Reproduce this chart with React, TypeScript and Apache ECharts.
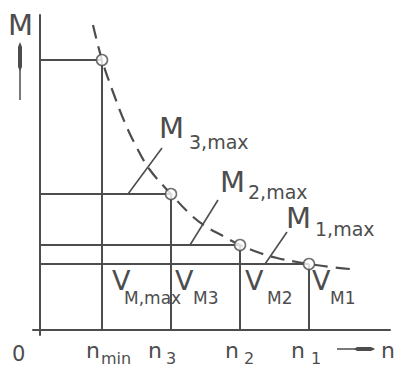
import React, { useEffect, useRef } from "react";
import * as echarts from "echarts";

// speeds at the operating points (n_min, n3, n2, n1) and max torques
const speedNames = ["min", "3", "2", "1"];
const speedValues = [62, 131, 200, 269];
const torqueValues = [270, 136, 85, 66];
const torqueNames = ["3,max", "2,max", "1,max"];
const volumeNames = ["M,max", "M3", "M2", "M1"];
// dashed limit curve (constant power hyperbola)
const curveN = [53, 62, 73, 85, 97, 110, 131, 150, 165, 183, 200, 220, 237, 257, 269, 290, 310];
const curveM = [305, 270, 238, 207, 182, 160, 136, 116, 104, 94, 85, 77, 72, 68, 66, 63, 61];
// leader lines of the M_max labels (start on level, end at label)
const leaderFrom = [[88, 136], [150, 85], [225, 66]];
const leaderTo = [[122, 182], [178, 130], [247, 98]];

const INK = "#4d4d4d";
const FONT = "DejaVu Sans";

function txt(text: string, x: number, base: number, size: number) {
  return {
    type: "text",
    x,
    y: base - 0.36 * size,
    silent: true,
    style: {
      text,
      fill: INK,
      font: `${size}px "${FONT}"`,
      textAlign: "left",
      textVerticalAlign: "middle",
    },
  };
}

export default function App() {
  const ref = useRef<HTMLDivElement>(null);
  useEffect(() => {
    if (!ref.current) return;
    document.body.style.margin = "0";
    const chart = echarts.init(ref.current, null, { renderer: "svg" });
    const lineSeries: any[] = [];
    speedValues.forEach((n, i) => {
      const m = torqueValues[i];
      lineSeries.push({
        type: "line",
        data: [[0, m], [n, m]],
        showSymbol: false,
        lineStyle: { color: INK, width: 2 },
        silent: true,
      });
      lineSeries.push({
        type: "line",
        data: [[n, 0], [n, m]],
        showSymbol: false,
        lineStyle: { color: INK, width: 2 },
        silent: true,
      });
    });
    leaderFrom.forEach((p, i) => {
      lineSeries.push({
        type: "line",
        data: [p, leaderTo[i]],
        showSymbol: false,
        lineStyle: { color: INK, width: 1.6 },
        silent: true,
      });
    });
    lineSeries.push({
      type: "line",
      data: curveN.map((n, i) => [n, curveM[i]]),
      smooth: 0.4,
      showSymbol: false,
      lineStyle: { color: INK, width: 2.2, type: [14, 8] },
      silent: true,
    });
    lineSeries.push({
      type: "scatter",
      data: speedValues.map((n, i) => [n, torqueValues[i]]),
      symbol: "circle",
      symbolSize: 11,
      itemStyle: { color: "#fff", borderColor: INK, borderWidth: 1.6 },
      z: 10,
      silent: true,
    });

    const nX = [86, 148, 225, 291];
    const subX = [101, 166, 244, 311];
    const graphics: any[] = [
      txt("M", 8, 35, 29),
      txt("0", 12, 362, 21),
      txt("n", 381, 358, 22),
    ];
    speedNames.forEach((s, i) => {
      graphics.push(txt("n", nX[i], 358, 22));
      graphics.push(txt(s, subX[i], 364, 16));
    });
    const mX = [159, 220, 286];
    const mBase = [138, 192, 228];
    const sX = [189, 248, 315];
    const sBase = [149, 199, 236];
    torqueNames.forEach((s, i) => {
      graphics.push(txt("M", mX[i], mBase[i], 29));
      graphics.push(txt(s, sX[i], sBase[i], 19));
    });
    const vX = [112, 175, 245, 312];
    const vsX = [124, 193, 267, 330];
    volumeNames.forEach((s, i) => {
      graphics.push(txt("V", vX[i], 290, 27));
      graphics.push(txt(s, vsX[i], 304, 17));
    });
    // axis arrows
    graphics.push({
      type: "line",
      silent: true,
      shape: { x1: 20, y1: 44, x2: 20, y2: 100 },
      style: { stroke: INK, lineWidth: 1.5 },
    });
    graphics.push({
      type: "polygon",
      silent: true,
      shape: { points: [[20, 42], [22, 47], [22, 67], [20, 71], [18, 67], [18, 47]] },
      style: { fill: INK },
    });
    graphics.push({
      type: "line",
      silent: true,
      shape: { x1: 337, y1: 349, x2: 374, y2: 349 },
      style: { stroke: INK, lineWidth: 1.5 },
    });
    graphics.push({
      type: "polygon",
      silent: true,
      shape: { points: [[375, 349], [371, 351], [357, 351], [354, 349], [357, 347], [371, 347]] },
      style: { fill: INK },
    });

    chart.setOption({
      animation: false,
      backgroundColor: "#ffffff",
      grid: { left: 33, right: 8, top: 15, bottom: 32 },
      xAxis: {
        type: "value",
        min: -7,
        max: 350,
        axisLine: { onZero: true, lineStyle: { color: INK, width: 2 } },
        axisTick: { show: false },
        axisLabel: { show: false },
        splitLine: { show: false },
      },
      yAxis: {
        type: "value",
        min: -5,
        max: 315,
        axisLine: { show: true, onZero: true, lineStyle: { color: INK, width: 2 } },
        axisTick: { show: false },
        axisLabel: { show: false },
        splitLine: { show: false },
      },
      series: lineSeries,
      graphic: graphics,
    });
    return () => chart.dispose();
  }, []);
  return (
    <div
      ref={ref}
      style={{ position: "absolute", left: 0, top: 0, width: 398, height: 367 }}
    />
  );
}
